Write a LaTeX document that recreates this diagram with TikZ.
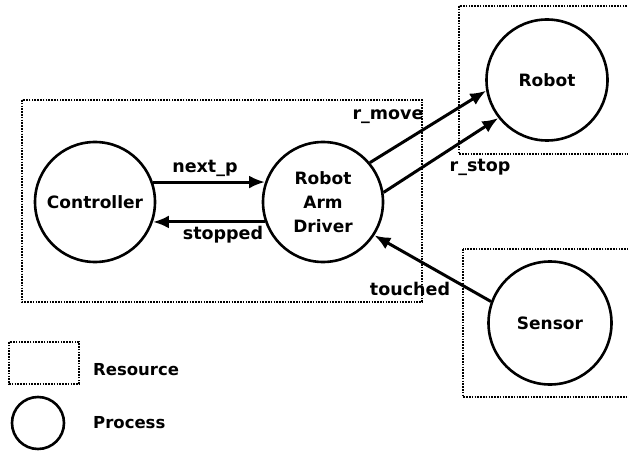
\documentclass[tikz,border=0pt]{standalone}
\usepackage{fontspec}
\setmainfont{DejaVu Sans}
\usetikzlibrary{arrows.meta}
\tikzset{
  resource/.style={draw, line width=2.2pt, dash pattern=on 1.6pt off 1.2pt},
  process/.style={draw, circle, line width=2.6pt, inner sep=0pt, align=center,
    font=\fontsize{17}{24}\selectfont\bfseries},
  flow/.style={line width=3pt, -{Latex[length=16pt, width=13pt]}},
  lbl/.style={font=\fontsize{17.5}{18}\selectfont\bfseries, inner sep=1pt},
  legendtxt/.style={font=\fontsize{16.5}{18}\selectfont\bfseries, anchor=west, inner sep=0pt}
}
\begin{document}
\begin{tikzpicture}[x=1pt, y=-1pt]
  \useasboundingbox (0,0) rectangle (628,454);
  \clip (0,0) rectangle (628,454);

  % resource boxes
  \draw[resource] (22,100) rectangle (422,302);
  \draw[resource] (459,6) rectangle (640,154);
  \draw[resource] (463,249) rectangle (640,397);

  % processes
  \node[process, minimum size=120pt] (ctrl) at (95,202) {Controller};
  \node[process, minimum size=120pt] (drv) at (323,202) {Robot\\Arm\\Driver};
  \node[process, minimum size=121pt] (robot) at (547,80) {Robot};
  \node[process, minimum size=123pt] (sensor) at (550,323) {Sensor};

  % message flows
  \draw[flow] (ctrl.19) -- (drv.161);
  \draw[flow] (drv.199) -- (ctrl.-19);
  \draw[flow] (drv.40) -- (robot.190);
  \draw[flow] (drv.9) -- (robot.218);
  \draw[flow] (sensor.160) -- (drv.-33);

  % flow labels
  \node[lbl] (lnext) at (205,168) {next\_p};
  \node[lbl] (lstop) at (223,235) {stopped};
  \node[lbl] (lmove) at (388,117) {r\_move};
  \node[lbl] (lrstop) at (480,167) {r\_stop};
  \node[lbl] (ltouch) at (410,289) {touched};

  % legend
  \draw[resource] (9,342) rectangle (79,384);
  \node[legendtxt] (lres) at (93,370) {Resource};
  \node[draw, circle, line width=2.6pt, minimum size=52pt, inner sep=0pt] (lproc) at (38,423) {};
  \node[legendtxt] (lprc) at (93,423) {Process};
\end{tikzpicture}
\end{document}
